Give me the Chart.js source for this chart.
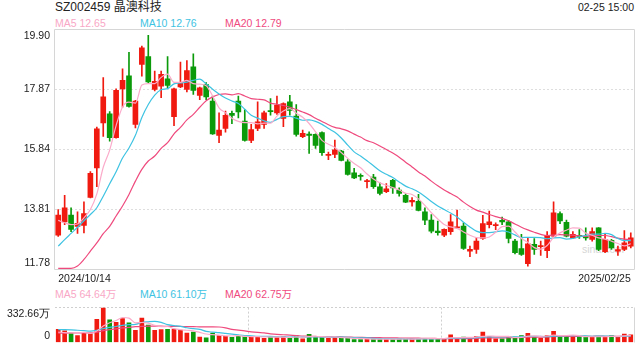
<!DOCTYPE html>
<html><head><meta charset="utf-8">
<script src="https://cdn.jsdelivr.net/npm/chart.js@4.4.1/dist/chart.umd.min.js"></script>
<style>
html,body{margin:0;padding:0;background:#fff;width:640px;height:360px;overflow:hidden;font-family:"Liberation Sans","Noto Sans CJK SC",sans-serif;}
canvas{position:absolute;left:0;}
#main{top:0;}
#vol{top:290px;}
.t{position:absolute;white-space:nowrap;line-height:1;}
</style></head><body>
<div class="t" style="left:55px;top:1px;font-size:12px;color:#222">SZ002459 晶澳科技</div>
<div class="t" style="right:6px;top:2px;font-size:10.5px;color:#222">02-25 15:00</div>
<div class="t" style="left:55px;top:18px;font-size:10.5px;color:#f9a7c6">MA5 12.65</div>
<div class="t" style="left:140px;top:18px;font-size:10.5px;color:#3ec3e2">MA10 12.76</div>
<div class="t" style="left:225px;top:18px;font-size:10.5px;color:#ef4a7e">MA20 12.79</div>
<div class="t" style="left:55px;top:289px;font-size:10.5px;color:#f9a7c6">MA5 64.64万</div>
<div class="t" style="left:140px;top:289px;font-size:10.5px;color:#3ec3e2">MA10 61.10万</div>
<div class="t" style="left:225px;top:289px;font-size:10.5px;color:#ef4a7e">MA20 62.75万</div>
<div class="t" style="left:582px;top:244px;font-size:10.5px;color:#d6d6d6">sina.com</div>
<canvas id="main" width="640" height="290"></canvas>
<canvas id="vol" width="640" height="70"></canvas>
<script>
const dates = [
'2024/10/14','2024/10/15','2024/10/16','2024/10/17','2024/10/18','2024/10/21','2024/10/22','2024/10/23','2024/10/24','2024/10/25','2024/10/28','2024/10/29','2024/10/30','2024/10/31',
'2024/11/01','2024/11/04','2024/11/05','2024/11/06','2024/11/07','2024/11/08','2024/11/11','2024/11/12','2024/11/13','2024/11/14','2024/11/15','2024/11/18','2024/11/19','2024/11/20','2024/11/21','2024/11/22','2024/11/25','2024/11/26','2024/11/27','2024/11/28','2024/11/29',
'2024/12/02','2024/12/03','2024/12/04','2024/12/05','2024/12/06','2024/12/09','2024/12/10','2024/12/11','2024/12/12','2024/12/13','2024/12/16','2024/12/17','2024/12/18','2024/12/19','2024/12/20','2024/12/23','2024/12/24','2024/12/25','2024/12/26','2024/12/27','2024/12/30','2024/12/31',
'2025/01/02','2025/01/03','2025/01/06','2025/01/07','2025/01/08','2025/01/09','2025/01/10','2025/01/13','2025/01/14','2025/01/15','2025/01/16','2025/01/17','2025/01/20','2025/01/21','2025/01/22','2025/01/23','2025/01/24','2025/01/27',
'2025/02/05','2025/02/06','2025/02/07','2025/02/10','2025/02/11','2025/02/12','2025/02/13','2025/02/14','2025/02/17','2025/02/18','2025/02/19','2025/02/20','2025/02/21','2025/02/24','2025/02/25'];

const openP = [12.94,13.39,13.62,13.24,13.27,14.22,15.22,16.74,17.05,16.24,
17.89,18.33,16.69,18.72,18.98,17.87,17.98,18.23,16.95,17.96,
17.87,18.64,17.67,18.04,17.48,16.32,16.55,17.06,17.48,16.80,
16.15,16.55,16.69,17.16,17.08,16.89,17.45,16.97,16.27,16.36,
16.35,16.41,15.64,15.67,15.79,15.42,15.05,14.97,14.75,14.91,
14.58,14.41,14.80,14.47,14.29,14.07,14.09,13.73,13.45,13.08,
12.94,13.06,13.19,13.25,12.40,12.46,12.83,13.30,13.26,13.44,
13.39,12.74,12.49,11.98,12.63,12.55,12.42,12.91,13.67,13.38,
12.85,12.94,12.89,12.80,13.19,12.38,12.77,12.40,12.46,12.57];
const highP = [13.81,14.29,13.87,13.73,14.07,15.09,16.60,18.27,17.12,17.89,
18.57,19.13,17.50,19.34,19.70,18.49,18.49,18.98,17.92,18.80,
18.85,19.08,17.95,18.10,17.65,17.08,17.14,17.14,17.65,17.19,
16.69,17.45,17.14,17.56,17.65,17.42,17.67,17.36,16.50,16.44,
16.37,16.44,15.75,16.16,15.81,15.50,15.20,15.02,14.83,15.00,
14.71,14.69,14.83,14.54,14.34,14.21,14.32,13.87,13.64,13.42,
13.16,13.64,13.79,13.36,12.57,12.85,13.61,13.76,13.36,13.55,
13.44,12.80,12.97,12.85,12.83,12.74,13.06,14.07,13.73,13.45,
13.06,13.13,13.19,13.19,13.20,12.97,12.80,12.57,13.10,13.02];
const lowP = [12.90,13.30,13.06,13.00,13.02,14.20,14.58,16.28,16.12,16.22,
17.27,17.27,16.57,18.32,18.10,17.82,17.59,17.93,16.65,17.93,
17.79,17.70,17.53,17.53,16.35,16.07,16.43,16.71,16.91,16.12,
16.07,16.48,16.55,17.00,17.03,16.61,17.00,16.29,16.24,15.71,
15.88,15.64,15.50,15.56,15.45,14.97,14.85,14.80,14.54,14.52,
14.30,14.38,14.35,14.26,14.04,13.92,13.76,13.30,13.02,12.94,
12.89,12.97,13.17,12.46,12.21,12.32,12.80,13.19,13.13,13.30,
12.68,12.31,12.26,11.89,12.29,12.26,12.18,12.88,13.33,12.88,
12.82,12.83,12.77,12.74,12.42,12.35,12.46,12.26,12.42,12.51];
const closeP = [13.62,13.87,13.14,13.34,13.67,15.03,16.54,17.62,16.24,17.84,
18.18,17.30,17.48,19.28,18.13,18.15,18.38,18.01,17.89,18.10,
18.51,17.84,17.93,17.62,16.37,16.50,17.00,16.99,17.11,16.15,
16.51,16.78,17.08,17.12,17.34,17.39,17.16,16.35,16.39,16.32,
15.98,15.73,15.68,15.83,15.47,15.00,14.88,14.93,14.79,14.58,
14.35,14.51,14.54,14.35,14.06,14.12,13.78,13.45,13.08,13.03,
13.14,13.39,13.22,12.49,12.46,12.74,13.33,13.39,13.30,13.39,
12.83,12.35,12.29,12.65,12.46,12.59,12.94,13.70,13.42,12.91,
12.97,12.90,12.85,13.06,12.46,12.80,12.51,12.45,12.68,12.85];

const ma5 = [13.44,13.36,13.30,13.32,13.53,13.81,14.34,15.24,15.82,16.65,
17.28,17.44,17.41,18.02,18.07,18.07,18.28,18.39,18.11,18.11,
18.18,18.07,18.05,18.00,17.65,17.25,17.08,16.90,16.79,16.75,
16.75,16.71,16.73,16.73,16.97,17.14,17.22,17.07,16.93,16.72,
16.44,16.15,16.02,15.91,15.74,15.54,15.37,15.22,15.01,14.84,
14.71,14.63,14.55,14.47,14.36,14.32,14.17,13.95,13.70,13.49,
13.30,13.22,13.17,13.05,12.94,12.86,12.85,12.88,13.04,13.23,
13.25,13.05,12.83,12.70,12.52,12.47,12.59,12.87,13.02,13.11,
13.19,13.18,13.01,12.94,12.85,12.81,12.74,12.66,12.58,12.65];
const ma10 = [12.57,12.79,13.00,13.21,13.43,13.64,13.87,14.26,14.68,15.09,
15.55,15.89,16.32,16.92,17.36,17.68,17.86,17.90,18.06,18.09,
18.12,18.18,18.22,18.06,17.88,17.72,17.58,17.48,17.40,17.20,
17.00,16.90,16.81,16.76,16.86,16.95,16.96,16.90,16.83,16.84,
16.79,16.69,16.55,16.42,16.23,15.99,15.76,15.62,15.46,15.29,
15.12,15.00,14.89,14.74,14.60,14.51,14.40,14.25,14.08,13.93,
13.81,13.69,13.56,13.38,13.22,13.08,13.03,13.03,13.05,13.09,
13.05,12.95,12.86,12.87,12.87,12.86,12.82,12.85,12.86,12.81,
12.83,12.88,12.94,12.98,12.98,13.00,12.96,12.83,12.76,12.76];
const ma20 = [11.82,11.82,11.82,11.90,12.12,12.40,12.68,12.99,13.24,13.59,
13.93,14.32,14.77,15.17,15.45,15.62,15.88,16.07,16.37,16.59,
16.84,17.03,17.27,17.49,17.62,17.70,17.72,17.69,17.73,17.65,
17.56,17.54,17.52,17.41,17.37,17.33,17.27,17.19,17.11,17.02,
16.90,16.79,16.68,16.59,16.54,16.47,16.36,16.26,16.14,16.07,
15.96,15.84,15.72,15.58,15.41,15.25,15.08,14.94,14.77,14.61,
14.47,14.35,14.23,14.06,13.91,13.79,13.72,13.64,13.57,13.51,
13.43,13.32,13.21,13.12,13.04,12.97,12.93,12.94,12.96,12.95,
12.94,12.92,12.90,12.93,12.93,12.93,12.89,12.84,12.81,12.79];

const volume = [126,110,88,66,88,82,221,330,215,193,
228,188,115,232,166,115,122,126,126,117,
88,99,51,44,88,66,59,48,59,59,
55,55,39,48,51,55,42,66,33,77,
51,48,39,48,39,44,26,26,33,33,
37,33,26,33,37,33,37,37,37,37,
37,73,39,51,39,59,99,59,33,33,
59,51,66,86,48,39,66,106,59,59,
55,48,55,55,55,55,64,55,79,73];
const vma5 = [99,94,92,92,96,87,109,157,188,209,
238,232,187,190,185,163,150,152,131,121,
116,111,96,80,74,70,62,61,64,58,
56,55,53,51,50,50,47,52,49,55,
54,55,50,53,45,44,39,37,34,32,
31,32,32,32,33,32,33,35,36,36,
37,44,45,47,48,52,57,61,58,57,
57,47,48,59,62,58,61,69,64,66,
69,65,55,54,54,54,57,57,62,65];
const vma10 = [122,122,120,116,112,108,116,132,144,152,
163,170,173,190,197,201,191,170,161,154,
140,131,124,105,98,93,86,79,72,66,
63,58,57,58,54,53,51,53,50,52,
52,51,51,51,50,49,47,43,43,39,
37,36,35,33,33,32,33,34,34,35,
35,39,40,42,42,45,51,53,53,52,
54,52,55,58,59,57,54,59,61,64,
64,63,62,59,60,61,61,56,58,59];
const vma20 = [88,89,90,90,91,92,99,112,122,130,
138,144,150,154,155,155,155,154,154,153,
151,150,149,148,148,147,139,124,117,110,
101,95,91,82,76,73,69,66,61,59,
57,55,54,54,52,51,49,48,47,45,
45,43,43,42,41,40,40,39,39,37,
36,37,37,37,37,38,42,43,43,43,
45,45,47,50,51,51,52,56,57,58,
59,58,59,59,60,59,58,57,60,62];

const priceTicks = [11.78, 13.81, 15.84, 17.87, 19.90];
const volTicks = [0, 332.66];

const FONT = '"Liberation Sans", Arial, sans-serif';
const RED = '#f01a10', GREEN = '#0a9a0a';
const C_MA5 = '#fbabc9', C_MA10 = '#3ec3e2', C_MA20 = '#ef4a7e';
const colors = closeP.map((c, i) => c >= openP[i] ? RED : GREEN);

const framePlugin = {
  id: 'frame',
  afterDatasetsDraw(chart, args, opts) {
    const {ctx, chartArea: a} = chart;
    ctx.save();
    ctx.strokeStyle = opts.color || '#d9d9d9';
    ctx.lineWidth = 1;
    ctx.setLineDash([]);
    const L = Math.round(a.left) - 0.5, R = Math.round(a.right) + 0.5;
    const T = Math.floor(a.top) + 0.5, B = Math.floor(a.bottom) + 0.5;
    ctx.beginPath();
    if (opts.sides.includes('t')) { ctx.moveTo(L, T); ctx.lineTo(R, T); }
    if (opts.sides.includes('r')) { ctx.moveTo(R, T); ctx.lineTo(R, B); }
    if (opts.sides.includes('b')) { ctx.moveTo(L, B); ctx.lineTo(R, B); }
    if (opts.sides.includes('l')) { ctx.moveTo(L, T); ctx.lineTo(L, B); }
    ctx.stroke();
    ctx.restore();
  }
};

function lineDs(label, data, color) {
  return {type: 'line', label, data, borderColor: color, borderWidth: 1.2, pointRadius: 0,
          cubicInterpolationMode: 'monotone', fill: false, order: 0};
}

new Chart(document.getElementById('main'), {
  type: 'bar',
  data: {
    labels: dates,
    datasets: [
      lineDs('MA5', ma5, C_MA5),
      lineDs('MA10', ma10, C_MA10),
      lineDs('MA20', ma20, C_MA20),
      {label: 'body', data: openP.map((o, i) => [o, closeP[i]]), backgroundColor: colors,
       barThickness: 5, minBarLength: 1, grouped: false, borderWidth: 0, order: 1},
      {label: 'wick', data: lowP.map((l, i) => [l, highP[i]]), backgroundColor: colors,
       barThickness: 1, grouped: false, borderWidth: 0, order: 2}
    ]
  },
  options: {
    responsive: false, animation: false, events: [],
    layout: {padding: {top: 29.5, right: 6, left: 0, bottom: 0}},
    plugins: {legend: {display: false}, tooltip: {enabled: false},
              frame: {color: '#d6d6d6', sides: 'trbl'}},
    scales: {
      x: {
        offset: true,
        grid: {display: false, drawTicks: false},
        border: {display: false},
        ticks: {autoSkip: false, maxRotation: 0, minRotation: 0, align: 'inner', padding: 3,
                color: '#222', font: {size: 10.5, family: FONT},
                callback: (v, i) => (i === 0 || i === dates.length - 1) ? dates[i] : null},
        afterFit: s => { s.height = 20.5; }
      },
      y: {
        min: priceTicks[0], max: priceTicks[priceTicks.length - 1],
        afterBuildTicks: s => { s.ticks = priceTicks.map(v => ({value: v})); },
        afterFit: s => { s.width = 55; },
        grid: {color: c => (c.index === 0 || c.index === priceTicks.length - 1) ? 'rgba(0,0,0,0)' : '#dedede',
               lineWidth: 1, drawTicks: false},
        border: {display: false, dash: [2, 2]},
        ticks: {padding: 5, color: '#222', font: {size: 10.5, family: FONT},
                callback: (v, i) => {
                  const s = Number(v).toFixed(2);
                  if (i === 0) return [s, ''];
                  if (i === priceTicks.length - 1) return ['', s];
                  return s;
                }}
      }
    }
  },
  plugins: [framePlugin]
});

new Chart(document.getElementById('vol'), {
  type: 'bar',
  data: {
    labels: dates,
    datasets: [
      lineDs('VMA5', vma5, C_MA5),
      lineDs('VMA10', vma10, C_MA10),
      lineDs('VMA20', vma20, C_MA20),
      {label: 'vol', data: volume, backgroundColor: colors, barThickness: 4, grouped: false,
       borderWidth: 0, order: 1}
    ]
  },
  options: {
    responsive: false, animation: false, events: [],
    layout: {padding: {top: 14.5, right: 6, left: 0, bottom: 5.5}},
    plugins: {legend: {display: false}, tooltip: {enabled: false},
              frame: {color: '#d6d6d6', sides: 'r'}},
    scales: {
      x: {
        offset: true,
        grid: {offset: true, drawTicks: false, lineWidth: 1,
               color: c => (c.index === 30 || c.index === 60) ? '#cfcfcf' : 'rgba(0,0,0,0)'},
        border: {display: false, dash: [2, 2]},
        ticks: {display: false},
        afterFit: s => { s.height = 0; }
      },
      y: {
        min: volTicks[0], max: volTicks[1],
        afterBuildTicks: s => { s.ticks = volTicks.map(v => ({value: v})); },
        afterFit: s => { s.width = 55; },
        grid: {color: c => c.index === 1 ? '#cfcfcf' : 'rgba(0,0,0,0)', lineWidth: 1, drawTicks: false},
        border: {display: false, dash: [2, 2]},
        ticks: {padding: 5, color: '#222', font: {size: 10.5, family: FONT},
                callback: (v, i) => i === 0 ? ['0', ''] : ['', Number(v).toFixed(2) + '万']}
      }
    }
  },
  plugins: [framePlugin]
});
</script>
</body></html>
